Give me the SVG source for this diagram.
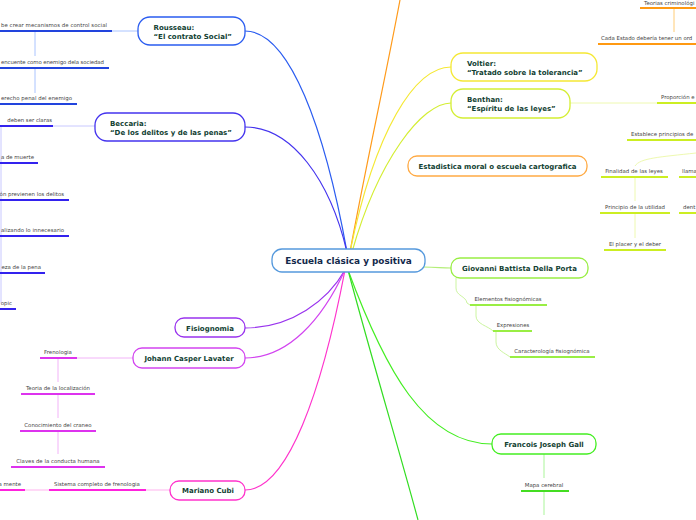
<svg xmlns="http://www.w3.org/2000/svg" width="696" height="520" viewBox="0 0 696 520">
<style>
text{font-family:"DejaVu Sans","Verdana",sans-serif}
.lbl{font-size:5.4px;fill:#444}
.nt{font-size:7px;font-weight:bold;fill:#123f33}
.ct{font-size:8.9px;font-weight:bold;fill:#13294b}
.node{fill:#fff;stroke-width:1.3}
.c{fill:none;stroke-width:1.2}
.ul{stroke-width:1.8;fill:none}
.lt{stroke-width:1;fill:none}
</style>
<rect width="696" height="520" fill="#fff"/>
<g id="connectors">
<path class="c" stroke="#2a5cf0" d="M245,31 C290,31 325,130 347,252"/>
<path class="c" stroke="#4433ee" d="M245,127 C292,127 330,180 347,252"/>
<path class="c" stroke="#ff9a1a" d="M350,252 C365,170 385,80 400,0"/>
<path class="c" stroke="#f5e834" d="M451,67 C415,67 375,130 350,252"/>
<path class="c" stroke="#d4ee33" d="M451,103 C422,103 378,160 352,252"/>
<path class="c" stroke="#9933ee" d="M245,328 C292,328 328,300 345,270"/>
<path class="c" stroke="#d244f0" d="M245,358 C288,358 322,320 345,270"/>
<path class="c" stroke="#ff33cc" d="M245,490 C288,490 322,390 345,270"/>
<path class="c" stroke="#44ee22" d="M348,270 C385,370 425,444 492,444"/>
<path class="c" stroke="#33dd22" d="M348,270 C372,360 402,460 418,520"/>
<path class="c" stroke="#b3ee77" d="M423,267 C438,267 440,268 451,268"/>
<!-- Rousseau children -->
<path class="lt" stroke="#aac4ff" d="M112,31 H139 M35,31 V56 M35,68 V93"/>
<path class="ul" stroke="#2244dd" d="M0,31 H112 M0,68 H109 M0,104 H77"/>
<!-- Beccaria children -->
<path class="lt" stroke="#c8c8ff" d="M53,126 H95 M1,126 V303"/>
<path class="ul" stroke="#3322ee" d="M0,126 H53 M0,163 H38 M0,200 H69 M0,236 H69 M0,273 H45 M0,309 H16"/>
<!-- Lavater children -->
<path class="lt" stroke="#f2b3f8" d="M77,358 H133 M58,358 V382 M58,394 V418 M58,431 V454"/>
<path class="ul" stroke="#dd33ee" d="M40,358 H77 M21,394 H95 M20,431 H96 M11,467 H105"/>
<!-- Mariano children -->
<path class="lt" stroke="#ffb3ee" d="M146,490 H170 M25,490 H49"/>
<path class="ul" stroke="#ff22dd" d="M49,490 H146 M0,490 H25"/>
<!-- Orange children -->
<path class="lt" stroke="#ffcc77" d="M674,8 V32"/>
<path class="ul" stroke="#ff9911" d="M640,8 H696 M598,44 H696"/>
<!-- Benthan children -->
<path class="lt" stroke="#eef9b0" d="M570,103 H657 M696,153 C660,157 640,158 635,166 M635,177 V201 M635,213 V238"/>
<path class="ul" stroke="#ccee22" d="M657,103 H696 M627,140 H696 M601,177 H668 M679,177 H696 M600,213 H670 M679,213 H696 M604,250 H666"/>
<!-- Giovanni children -->
<path class="lt" stroke="#ccf5a0" d="M456,278 V288 C456,296 466,296 467,303 L470,305 M476,305 V316 C476,324 488,326 493,331 M496,331 V342 C496,350 505,353 510,357"/>
<path class="ul" stroke="#99ee44" d="M470,305 H547 M493,331 H532 M510,357 H595"/>
<!-- Gall children -->
<path class="lt" stroke="#aaf599" d="M544,454 V478 M544,491 V515"/>
<path class="ul" stroke="#44dd22" d="M521,491 H569"/>
</g>
<g id="central">
<rect class="node" x="272" y="249" width="153" height="23" rx="10" stroke="#5599dd"/>
<text class="ct" x="348.5" y="264" text-anchor="middle">Escuela clásica y positiva</text>
</g>
<g id="rousseau">
<rect class="node" x="138" y="17" width="107" height="28" rx="12" stroke="#2a5cf0"/>
<text class="nt" x="153.5" y="30">Rousseau:</text>
<text class="nt" x="153.5" y="39">“El contrato Social”</text>
</g>
<g id="rousseau-children">
<text class="lbl" x="1" y="27" textLength="106" lengthAdjust="spacing">be crear mecanismos de control social</text>
<text class="lbl" x="1" y="64" textLength="103" lengthAdjust="spacing">encuente como enemigo dela sociedad</text>
<text class="lbl" x="1" y="100" textLength="71" lengthAdjust="spacing">erecho penal del enemigo</text>
</g>
<g id="beccaria">
<rect class="node" x="95" y="113" width="150" height="28" rx="12" stroke="#4433ee"/>
<text class="nt" x="110" y="126">Beccaria:</text>
<text class="nt" x="110" y="135">“De los delitos y de las penas”</text>
</g>
<g id="beccaria-children">
<text class="lbl" x="52" y="122" text-anchor="end">deben ser claras</text>
<text class="lbl" x="34" y="159" text-anchor="end">a de muerte</text>
<text class="lbl" x="64" y="196" text-anchor="end">ón previenen los delitos</text>
<text class="lbl" x="1" y="232" textLength="63" lengthAdjust="spacing">alizando lo innecesario</text>
<text class="lbl" x="41" y="269" text-anchor="end">eza de la pena</text>
<text class="lbl" x="12" y="305" text-anchor="end">opic</text>
</g>
<g id="fisiognomia">
<rect class="node" x="175" y="318" width="70" height="19" rx="9" stroke="#9933ee"/>
<text class="nt" x="210" y="330.5" text-anchor="middle">Fisiognomia</text>
</g>
<g id="lavater">
<rect class="node" x="133" y="348" width="112" height="20" rx="9" stroke="#d244f0"/>
<text class="nt" x="189" y="360.5" text-anchor="middle">Johann Casper Lavater</text>
</g>
<g id="lavater-children">
<text class="lbl" x="58" y="354" text-anchor="middle">Frenologia</text>
<text class="lbl" x="58" y="390" text-anchor="middle">Teoria de la localización</text>
<text class="lbl" x="58" y="427" text-anchor="middle">Conocimiento del craneo</text>
<text class="lbl" x="58" y="463" text-anchor="middle">Claves de la conducta humana</text>
</g>
<g id="mariano">
<rect class="node" x="170" y="481" width="75" height="19" rx="9" stroke="#ff33cc"/>
<text class="nt" x="208" y="493" text-anchor="middle">Mariano Cubi</text>
</g>
<g id="mariano-children">
<text class="lbl" x="97" y="486" text-anchor="middle">Sistema completo de frenologia</text>
<text class="lbl" x="21" y="486" text-anchor="end">a mente</text>
</g>
<g id="orange-children">
<text class="lbl" x="644" y="5">Teorias criminológi</text>
<text class="lbl" x="601" y="40">Cada Estado debería tener un ord</text>
</g>
<g id="voltier">
<rect class="node" x="451" y="53" width="146" height="28" rx="12" stroke="#f5e834"/>
<text class="nt" x="467" y="66">Voltier:</text>
<text class="nt" x="467" y="75">“Tratado sobre la tolerancia”</text>
</g>
<g id="benthan">
<rect class="node" x="451" y="89" width="119" height="29" rx="12" stroke="#d4ee33"/>
<text class="nt" x="467" y="102">Benthan:</text>
<text class="nt" x="467" y="111">“Espíritu de las leyes”</text>
</g>
<g id="benthan-children">
<text class="lbl" x="661" y="99">Proporción e</text>
<text class="lbl" x="631" y="136">Establece principios de</text>
<text class="lbl" x="634" y="173" text-anchor="middle">Finalidad de las leyes</text>
<text class="lbl" x="682" y="173">llama</text>
<text class="lbl" x="635" y="209" text-anchor="middle">Principio de la utilidad</text>
<text class="lbl" x="683" y="209">dent</text>
<text class="lbl" x="635" y="246" text-anchor="middle">El placer y el deber</text>
</g>
<g id="estadistica">
<rect class="node" x="408" y="156" width="179" height="20" rx="9" stroke="#ffaa44"/>
<text class="nt" x="497.5" y="169" text-anchor="middle">Estadistica moral o escuela cartografica</text>
</g>
<g id="porta">
<rect class="node" x="451" y="258" width="137" height="20" rx="9" stroke="#99ee44"/>
<text class="nt" x="519.5" y="270.5" text-anchor="middle">Giovanni Battista Della Porta</text>
</g>
<g id="porta-children">
<text class="lbl" x="508" y="301" text-anchor="middle">Elementos fisiognómicas</text>
<text class="lbl" x="513" y="327" text-anchor="middle">Expresiones</text>
<text class="lbl" x="552" y="353" text-anchor="middle">Caracterología fisiognómica</text>
</g>
<g id="gall">
<rect class="node" x="492" y="434" width="104" height="20" rx="9" stroke="#44ee22"/>
<text class="nt" x="544" y="446.5" text-anchor="middle">Francois Joseph Gall</text>
</g>
<g id="gall-children">
<text class="lbl" x="544" y="487" text-anchor="middle">Mapa cerebral</text>
</g>
</svg>
